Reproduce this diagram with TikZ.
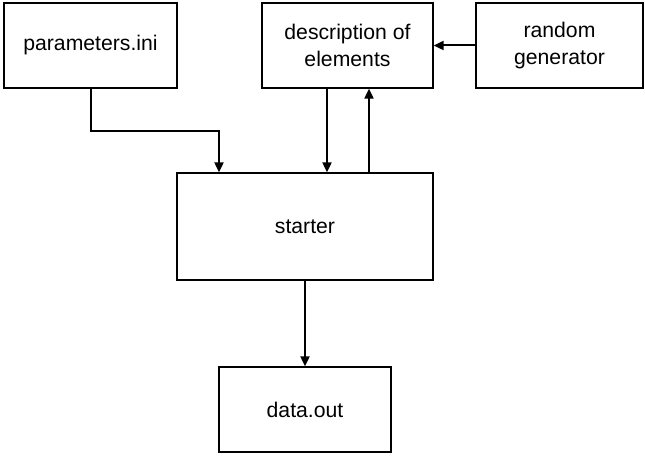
\documentclass[tikz,border=0pt]{standalone}
\usepackage{fontspec}
\setmainfont{Liberation Sans}
\usetikzlibrary{arrows.meta,calc}
\tikzset{every node/.style={draw,thick,line width=1.3pt,inner sep=0pt,align=center,font=\fontsize{21.2}{27}\selectfont},
         flow/.style={line width=2pt,-{Triangle[length=10pt,width=9pt]}}}

\begin{document}
\begin{tikzpicture}[x=1pt,y=-1pt]
   \useasboundingbox (0,0) rectangle (645,457);
   \node[minimum width=173pt,minimum height=85pt] (params)  at ( 90.5, 45.5) {parameters.ini};
   \node[minimum width=171pt,minimum height=85pt] (descr)   at (347.5, 45.5) {description of\\elements};
   \node[minimum width=167pt,minimum height=85pt] (rndgen)  at (559.5, 45.5) {random\\generator};
   \node[minimum width=256pt,minimum height=107pt] (starter) at (305,226.5) {starter};
   \node[minimum width=172pt,minimum height=85pt] (dataout) at (305,409.5) {data.out};
   \coordinate (bend) at (219,131);
   \draw[flow] (params.south) |- (bend) -- (bend |- starter.north);
   \draw[flow] ([xshift=-20.5pt]descr.south) -- ([xshift=-20.5pt]descr.south |- starter.north);
   \draw[flow] ([xshift=64pt]starter.north) -- ([xshift=64pt]starter.north |- descr.south);
   \draw[flow] (rndgen.west) -- (descr.east);
   \draw[flow] (starter.south) -- (dataout.north);
\end{tikzpicture}
\end{document}
